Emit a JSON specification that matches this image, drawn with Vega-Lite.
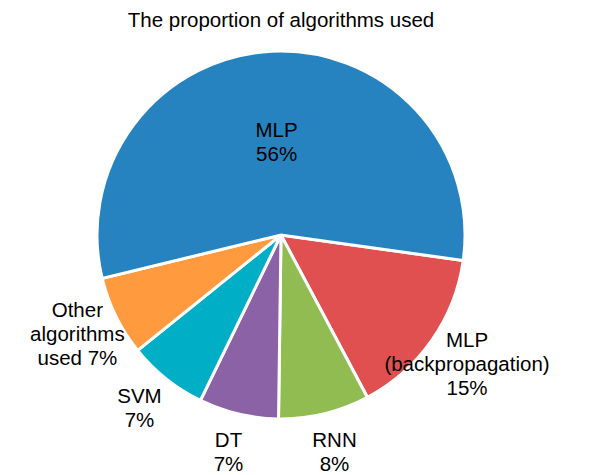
{
  "$schema": "https://vega.github.io/schema/vega-lite/v6.json",
  "width": 562,
  "height": 370,
  "autosize": {"type": "pad"},
  "padding": {"top": 10, "left": 0, "right": 0, "bottom": 0},
  "background": "white",
  "title": {
    "text": "The proportion of algorithms used",
    "font": "Liberation Sans",
    "fontSize": 20.5,
    "fontWeight": "normal",
    "color": "black",
    "offset": 14
  },
  "config": {"view": {"stroke": null}},
  "data": {
    "values": [
      {"name": "MLP (backpropagation)", "value": 15, "idx": 1, "label": "MLP\n(backpropagation)\n15%"},
      {"name": "RNN", "value": 8, "idx": 2, "label": "RNN\n8%"},
      {"name": "DT", "value": 7, "idx": 3, "label": "DT\n7%"},
      {"name": "SVM", "value": 7, "idx": 4, "label": "SVM\n7%"},
      {"name": "Other algorithms used", "value": 7, "idx": 5, "label": "Other\nalgorithms\nused 7%"},
      {"name": "MLP", "value": 56, "idx": 6, "label": "MLP\n56%"}
    ]
  },
  "encoding": {
    "theta": {"field": "value", "type": "quantitative", "stack": true, "scale": {"range": [1.71, 7.993]}},
    "order": {"field": "idx", "type": "quantitative"}
  },
  "layer": [
    {
      "mark": {"type": "arc", "outerRadius": 184, "stroke": "white", "strokeWidth": 3},
      "encoding": {
        "color": {
          "field": "name",
          "type": "nominal",
          "legend": null,
          "scale": {
            "domain": ["MLP (backpropagation)", "RNN", "DT", "SVM", "Other algorithms used", "MLP"],
            "range": ["#E05050", "#91BC52", "#8B62A6", "#00AEC6", "#FF9A3F", "#2683C0"]
          }
        }
      }
    },
    {
      "mark": {"type": "text", "font": "Liberation Sans", "fontSize": 20.5, "lineBreak": "\n", "lineHeight": 24, "color": "black", "align": "center", "baseline": "middle", "dy": -15},
      "encoding": {
        "text": {"condition": {"test": "datum.idx !== 1 && datum.idx !== 5", "field": "label"}, "value": ""},
        "radius": {"field": "value", "type": "quantitative", "scale": {"type": "linear", "domain": [49, 50], "range": [227, 89], "clamp": true, "zero": false, "nice": false}}
      }
    },
    {
      "mark": {"type": "text", "font": "Liberation Sans", "fontSize": 20.5, "lineBreak": "\n", "lineHeight": 24, "color": "black", "align": "center", "baseline": "middle", "dy": -24},
      "encoding": {
        "text": {"condition": {"test": "datum.idx === 1 || datum.idx === 5", "field": "label"}, "value": ""},
        "radius": {"field": "value", "type": "quantitative"}
      }
    }
  ]
}
